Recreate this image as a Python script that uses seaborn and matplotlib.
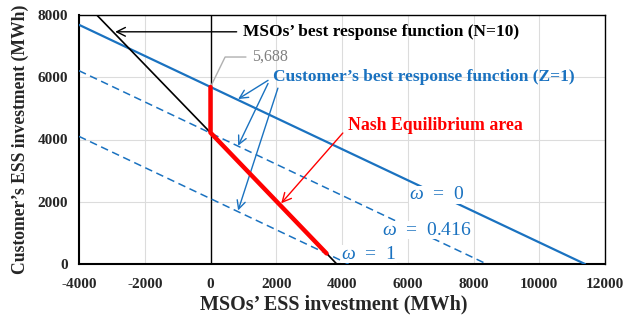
import matplotlib
matplotlib.use("Agg")
import matplotlib.pyplot as plt
import seaborn as sns
import pandas as pd

# Best-response curves (MWh)
msos_x = [-3460, 0, 3840]
msos_y = [8000, 4220, 0]
cust_w0_x = [-4000, 0, 11390]
cust_w0_y = [7685, 5688, 0]
cust_w0416_x = [-4000, 8400]
cust_w0416_y = [6210, 0]
cust_w1_x = [-4000, 4200]
cust_w1_y = [4100, 0]
nash_x = [0, 0, 3530]
nash_y = [5688, 4220, 340]
nash_top = 5688

x_ticks = [-4000, -2000, 0, 2000, 4000, 6000, 8000, 10000, 12000]
y_ticks = [0, 2000, 4000, 6000, 8000]

sns.set_theme(style="white")
plt.rcParams["font.family"] = ["Liberation Serif", "DejaVu Serif"]
plt.rcParams["mathtext.fontset"] = "custom"
plt.rcParams["mathtext.rm"] = "Liberation Serif"
plt.rcParams["mathtext.it"] = "Liberation Serif:italic"
plt.rcParams["axes.unicode_minus"] = False

BLUE = "#1a72c0"
RED = "#ff0000"

fig = plt.figure(figsize=(6.39, 3.22), dpi=100)
ax = fig.add_axes([79 / 639, 1 - 264 / 322, 526 / 639, 249 / 322])

def curve(xs, ys, **kw):
    df = pd.DataFrame({"x": xs, "y": ys})
    sns.lineplot(data=df, x="x", y="y", ax=ax, sort=False, estimator=None, **kw)

curve(cust_w0_x, cust_w0_y, color=BLUE, linewidth=1.6, zorder=3)
curve(cust_w0416_x, cust_w0416_y, color=BLUE, linewidth=1.1, linestyle=(0, (5, 3)), zorder=3)
curve(cust_w1_x, cust_w1_y, color=BLUE, linewidth=1.1, linestyle=(0, (5, 3)), zorder=3)
curve(msos_x, msos_y, color="black", linewidth=1.2, zorder=4)
curve(nash_x, nash_y, color=RED, linewidth=3.2, zorder=5)

ax.axvline(0, color="black", linewidth=1.0, zorder=2)

ax.set_xlim(-4000, 12000)
ax.set_ylim(0, 8000)
ax.set_xticks(x_ticks)
ax.set_yticks(y_ticks)
ax.grid(True, color="#dcdcdc", linewidth=0.8, zorder=0)
ax.set_axisbelow(True)
ax.tick_params(length=0, labelsize=11)
ax.tick_params(axis="x", pad=10)
ax.tick_params(axis="y", pad=8)
for lab in ax.get_xticklabels() + ax.get_yticklabels():
    lab.set_fontweight("bold")
for s in ax.spines.values():
    s.set_color("black")
    s.set_linewidth(1.0)
ax.spines["left"].set_linewidth(1.5)
ax.spines["bottom"].set_linewidth(1.5)

ax.set_xlabel("MSOs’ ESS investment (MWh)", fontsize=14.5, fontweight="bold")
ax.xaxis.set_label_coords(0.484, -0.124)
ax.set_ylabel("Customer’s ESS investment (MWh)", fontsize=12.7, fontweight="bold", labelpad=6)

# Annotations
ax.annotate("MSOs’ best response function (N=10)", xy=(-2900, 7460), xytext=(980, 7460),
            fontsize=12.5, fontweight="bold", color="black", va="center", ha="left",
            arrowprops=dict(arrowstyle="->,head_length=0.5,head_width=0.25", color="black",
                            lw=1.0, shrinkA=2, shrinkB=0, relpos=(0, 0.5)))

ax.annotate(f"{nash_top:,}", xy=(0, nash_top), xytext=(1262, 6650),
            fontsize=11.5, color="#808080", va="center", ha="left",
            arrowprops=dict(arrowstyle="-", color="#b0b0b0", lw=1.0, shrinkA=2, shrinkB=0,
                            relpos=(0, 0.5),
                            connectionstyle="angle,angleA=180,angleB=64,rad=0"))

ax.text(1900, 6000, "Customer’s best response function (Z=1)", fontsize=12.5,
        fontweight="bold", color=BLUE, va="center", ha="left")
arrow_kw = dict(arrowstyle="->,head_length=0.5,head_width=0.25", color=BLUE, lw=1.0,
                shrinkA=0, shrinkB=0)
ax.annotate("", xy=(840, 5300), xytext=(1750, 5900), arrowprops=arrow_kw)
ax.annotate("", xy=(840, 3800), xytext=(1750, 5800), arrowprops=arrow_kw)
ax.annotate("", xy=(840, 1720), xytext=(2050, 5650), arrowprops=arrow_kw)

ax.annotate("Nash Equilibrium area", xy=(2150, 1950), xytext=(4180, 4450),
            fontsize=12.8, fontweight="bold", color=RED, va="center", ha="left",
            arrowprops=dict(arrowstyle="->,head_length=0.5,head_width=0.25", color=RED,
                            lw=1.0, shrinkA=2, shrinkB=0, relpos=(0, 0.4)))

wbox = dict(facecolor="white", edgecolor="none", pad=0.5)
ax.text(6890, 2220, r"$\omega$  =  0", fontsize=14, color=BLUE, ha="center", va="center",
        bbox=wbox, zorder=6)
ax.text(6590, 1090, r"$\omega$  =  0.416", fontsize=14, color=BLUE, ha="center", va="center",
        bbox=wbox, zorder=6)
ax.text(4820, 320, r"$\omega$  =  1", fontsize=14, color=BLUE, ha="center", va="center",
        bbox=wbox, zorder=6)

fig.savefig("out.png", dpi=100)
